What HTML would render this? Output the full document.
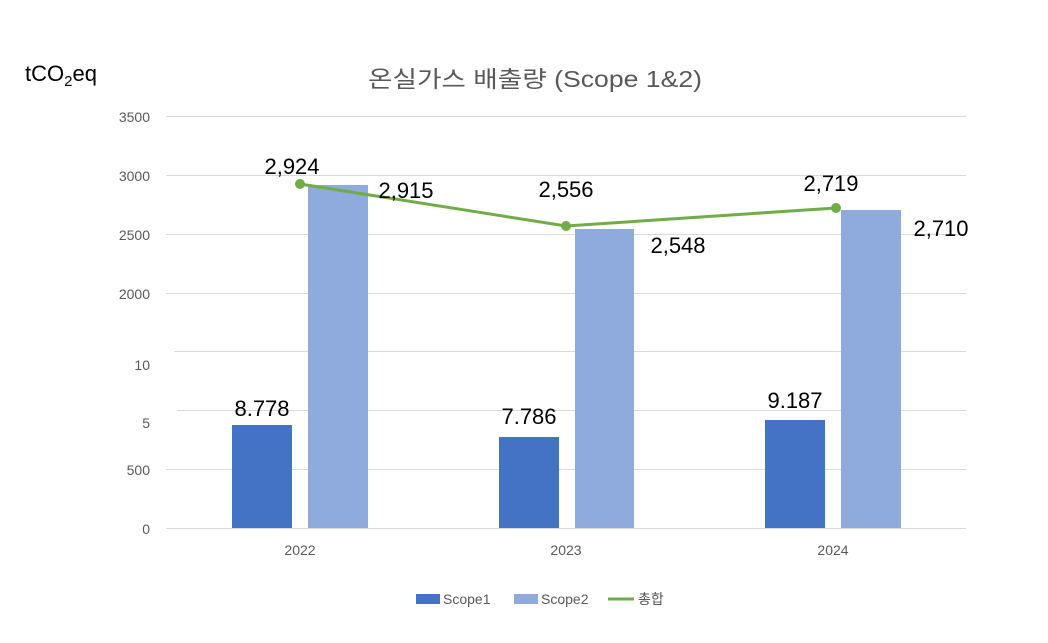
<!DOCTYPE html>
<html><head><meta charset="utf-8"><style>
body{margin:0;background:#fff;}
svg{display:block;font-family:"Liberation Sans","Noto Sans CJK KR",sans-serif;}
</style></head><body>
<svg width="1048" height="643" viewBox="0 0 1048 643">
<rect width="1048" height="643" fill="#fff"/>
<text x="535" y="87" text-anchor="middle" font-size="23" fill="#595959" textLength="334" lengthAdjust="spacingAndGlyphs">온실가스 배출량 (Scope 1&amp;2)</text>
<text x="25" y="81" font-size="22" fill="#000">tCO<tspan font-size="15" dy="5">2</tspan><tspan dy="-5">eq</tspan></text>
<g stroke="#d9d9d9" stroke-width="1">
<line x1="166" y1="116.5" x2="966" y2="116.5"/>
<line x1="166" y1="175.5" x2="966" y2="175.5"/>
<line x1="166" y1="234.5" x2="966" y2="234.5"/>
<line x1="166" y1="293.5" x2="966" y2="293.5"/>
<line x1="174" y1="351.5" x2="966" y2="351.5"/>
<line x1="177" y1="410.5" x2="966" y2="410.5"/>
<line x1="166" y1="469.5" x2="966" y2="469.5"/>
<line x1="166" y1="528.5" x2="966" y2="528.5"/>
</g>
<g font-size="14" fill="#595959" text-anchor="end">
<text x="150" y="122">3500</text>
<text x="150" y="181">3000</text>
<text x="150" y="240">2500</text>
<text x="150" y="299">2000</text>
<text x="150" y="370">10</text>
<text x="150" y="428">5</text>
<text x="150" y="475">500</text>
<text x="150" y="534">0</text>
</g>
<g fill="#4472c4">
<rect x="232" y="425" width="60" height="103"/>
<rect x="499" y="437" width="60" height="91"/>
<rect x="765" y="420" width="60" height="108"/>
</g>
<g fill="#8faadc">
<rect x="308" y="185" width="60" height="343"/>
<rect x="575" y="229" width="59" height="299"/>
<rect x="841" y="210" width="60" height="318"/>
</g>
<polyline points="300,184 566,226 836,208" fill="none" stroke="#70ad47" stroke-width="3"/>
<g fill="#70ad47"><circle cx="300" cy="184" r="5"/><circle cx="566" cy="226" r="5"/><circle cx="836" cy="208" r="5"/></g>
<g font-size="22" fill="#000" text-anchor="middle">
<text x="262" y="416">8.778</text>
<text x="529" y="424">7.786</text>
<text x="795" y="408">9.187</text>
<text x="292" y="174">2,924</text>
<text x="406" y="198">2,915</text>
<text x="566" y="197">2,556</text>
<text x="678" y="253">2,548</text>
<text x="941" y="236">2,710</text>
<text x="831" y="191">2,719</text>
</g>
<g font-size="14" fill="#595959" text-anchor="middle">
<text x="300" y="555">2022</text>
<text x="566" y="555">2023</text>
<text x="833" y="555">2024</text>
</g>
<rect x="416" y="594" width="24" height="10" fill="#4472c4"/>
<text x="443" y="604" font-size="14" fill="#595959">Scope1</text>
<rect x="514" y="594" width="24" height="10" fill="#8faadc"/>
<text x="541" y="604" font-size="14" fill="#595959">Scope2</text>
<line x1="608" y1="599" x2="634" y2="599" stroke="#70ad47" stroke-width="3"/>
<text x="638" y="604" font-size="14" fill="#595959">총합</text>
</svg>
</body></html>
